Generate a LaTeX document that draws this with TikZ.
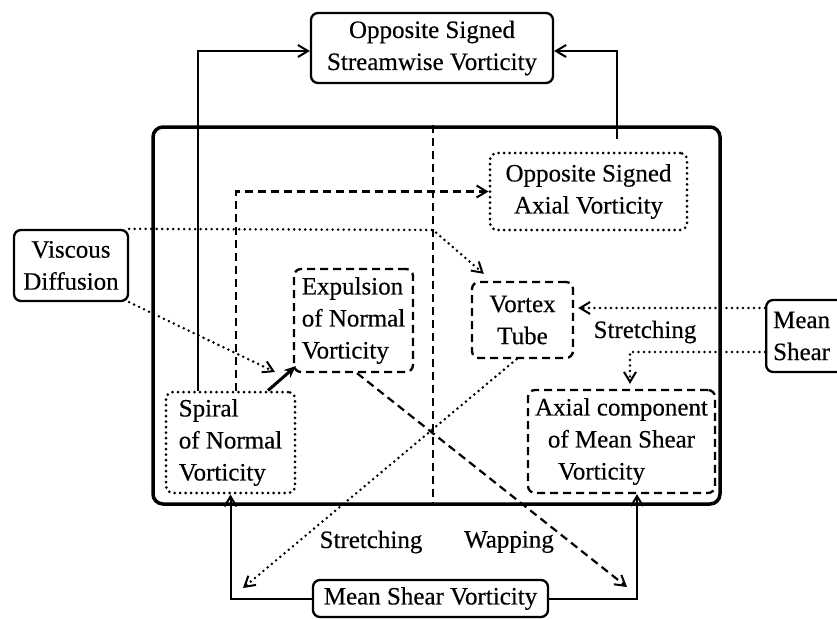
\documentclass[tikz,border=0pt]{standalone}
\usepackage{fontspec}
\setmainfont{Liberation Serif}[UprightFeatures={FakeBold=0.35}]
\usetikzlibrary{arrows.meta,calc}
\begin{document}
\begin{tikzpicture}[x=1pt,y=-1pt,
  font=\fontsize{25pt}{32pt}\selectfont,
  box/.style={draw, line width=2.3pt, rounded corners=7pt, inner sep=0pt, align=center},
  dotbox/.style={box, dash pattern=on 0pt off 5.5pt, line cap=round, line width=3pt},
  dashbox/.style={box, dash pattern=on 8pt off 5pt},
  conn/.style={line width=2pt, -{Straight Barb[length=10pt,width=12pt,line width=2pt]}},
  dotconn/.style={conn, dash pattern=on 0pt off 5.5pt, line cap=round, line width=2.8pt},
  dashconn/.style={conn, dash pattern=on 8pt off 5pt, line width=2.2pt},
  lbl/.style={inner sep=0pt}
]
\useasboundingbox (0,0) rectangle (837,619);
\clip (0,0) rectangle (837,619);

% frame
\node[draw, line width=3.5pt, rounded corners=10pt, minimum width=567pt, minimum height=377pt, inner sep=0pt] (frame) at (436.5,315.5) {};

% boxes
\node[box, minimum width=242pt, minimum height=70pt] (top) at (432,48) {Opposite Signed\\Streamwise Vorticity};
\node[dotbox, minimum width=197pt, minimum height=77pt] (axv) at (588.5,191.5) {Opposite Signed\\Axial Vorticity};
\node[box, minimum width=114pt, minimum height=71pt] (visc) at (71,265.5) {Viscous\\Diffusion};
\node[dashbox, align=left, minimum width=119pt, minimum height=103pt] (exp) at (353.5,320.5) {Expulsion\\of Normal\\Vorticity};
\node[dotbox, align=left, minimum width=129pt, minimum height=101pt] (spiral) at (230.5,442.5) {Spiral\\of Normal\\Vorticity};
\node[dashbox, minimum width=101pt, minimum height=76pt] (tube) at (522.5,320) {Vortex\\Tube};
\node[box, align=left, anchor=west, inner xsep=7pt, text width=70pt, minimum height=72pt] (mean) at (765,336) {Mean\\Shear};
\node[dashbox, minimum width=187pt, minimum height=103pt] (axc) at (621.5,441.5) {Axial component\\of Mean Shear\\Vorticity\hspace*{40pt}};
\node[box, minimum width=235pt, minimum height=37pt] (msv) at (430.5,598.5) {Mean Shear Vorticity};

% helper coordinates
\coordinate (xa) at (198,0);
\coordinate (xb) at (617,0);
\coordinate (xc) at (236,0);
\coordinate (xd) at (268,0);
\coordinate (xe) at (630,0);
\coordinate (xf) at (637,0);
\coordinate (xg) at (433,0);
\coordinate (vd) at (433,230);
\coordinate (ve) at (275,372);
\coordinate (vf) at (296,366);
\coordinate (m1) at ([yshift=28pt]mean.west);
\coordinate (m2) at ([yshift=-16pt]mean.west);
\coordinate (t1) at (243,588);
\coordinate (t2) at (627,587);

% divider
\draw[line width=2.2pt, dash pattern=on 8pt off 5pt] (frame.north -| xg) -- (frame.south -| xg);

% connectors
\draw[conn] (spiral.north -| xa) |- ([yshift=-3pt]top.west);
\draw[conn, shorten <=13pt] (axv.north -| xb) |- ([yshift=-3pt]top.east);
\draw[dashconn] (spiral.north -| xc) |- (axv.west);
\draw[dotconn] (visc.north east) -- (vd) -- ([xshift=13pt,yshift=7pt]tube.north west);
\draw[dotconn] (visc.south east) -- (ve);
\draw[line width=3pt, -{Stealth[length=12pt,width=10pt]}] (spiral.north -| xd) -- (vf);
\draw[dotconn, shorten >=4pt] (m1) -- (m1 -| tube.east);
\draw[dotconn, shorten >=5pt] (m2) -| (axc.north -| xe);
\draw[conn] (msv.west) -| (spiral.south);
\draw[conn] (msv.east) -| (axc.south -| xf);
\draw[dotconn] ([xshift=-6pt]tube.south) -- (t1);
\draw[dashconn] ([xshift=3.5pt]exp.south) -- (t2);

% labels
\node[lbl] (s1) at (645,332) {Stretching};
\node[lbl] (s2) at (371,542) {Stretching};
\node[lbl] (w) at (509,542) {Wapping};
\end{tikzpicture}
\end{document}
